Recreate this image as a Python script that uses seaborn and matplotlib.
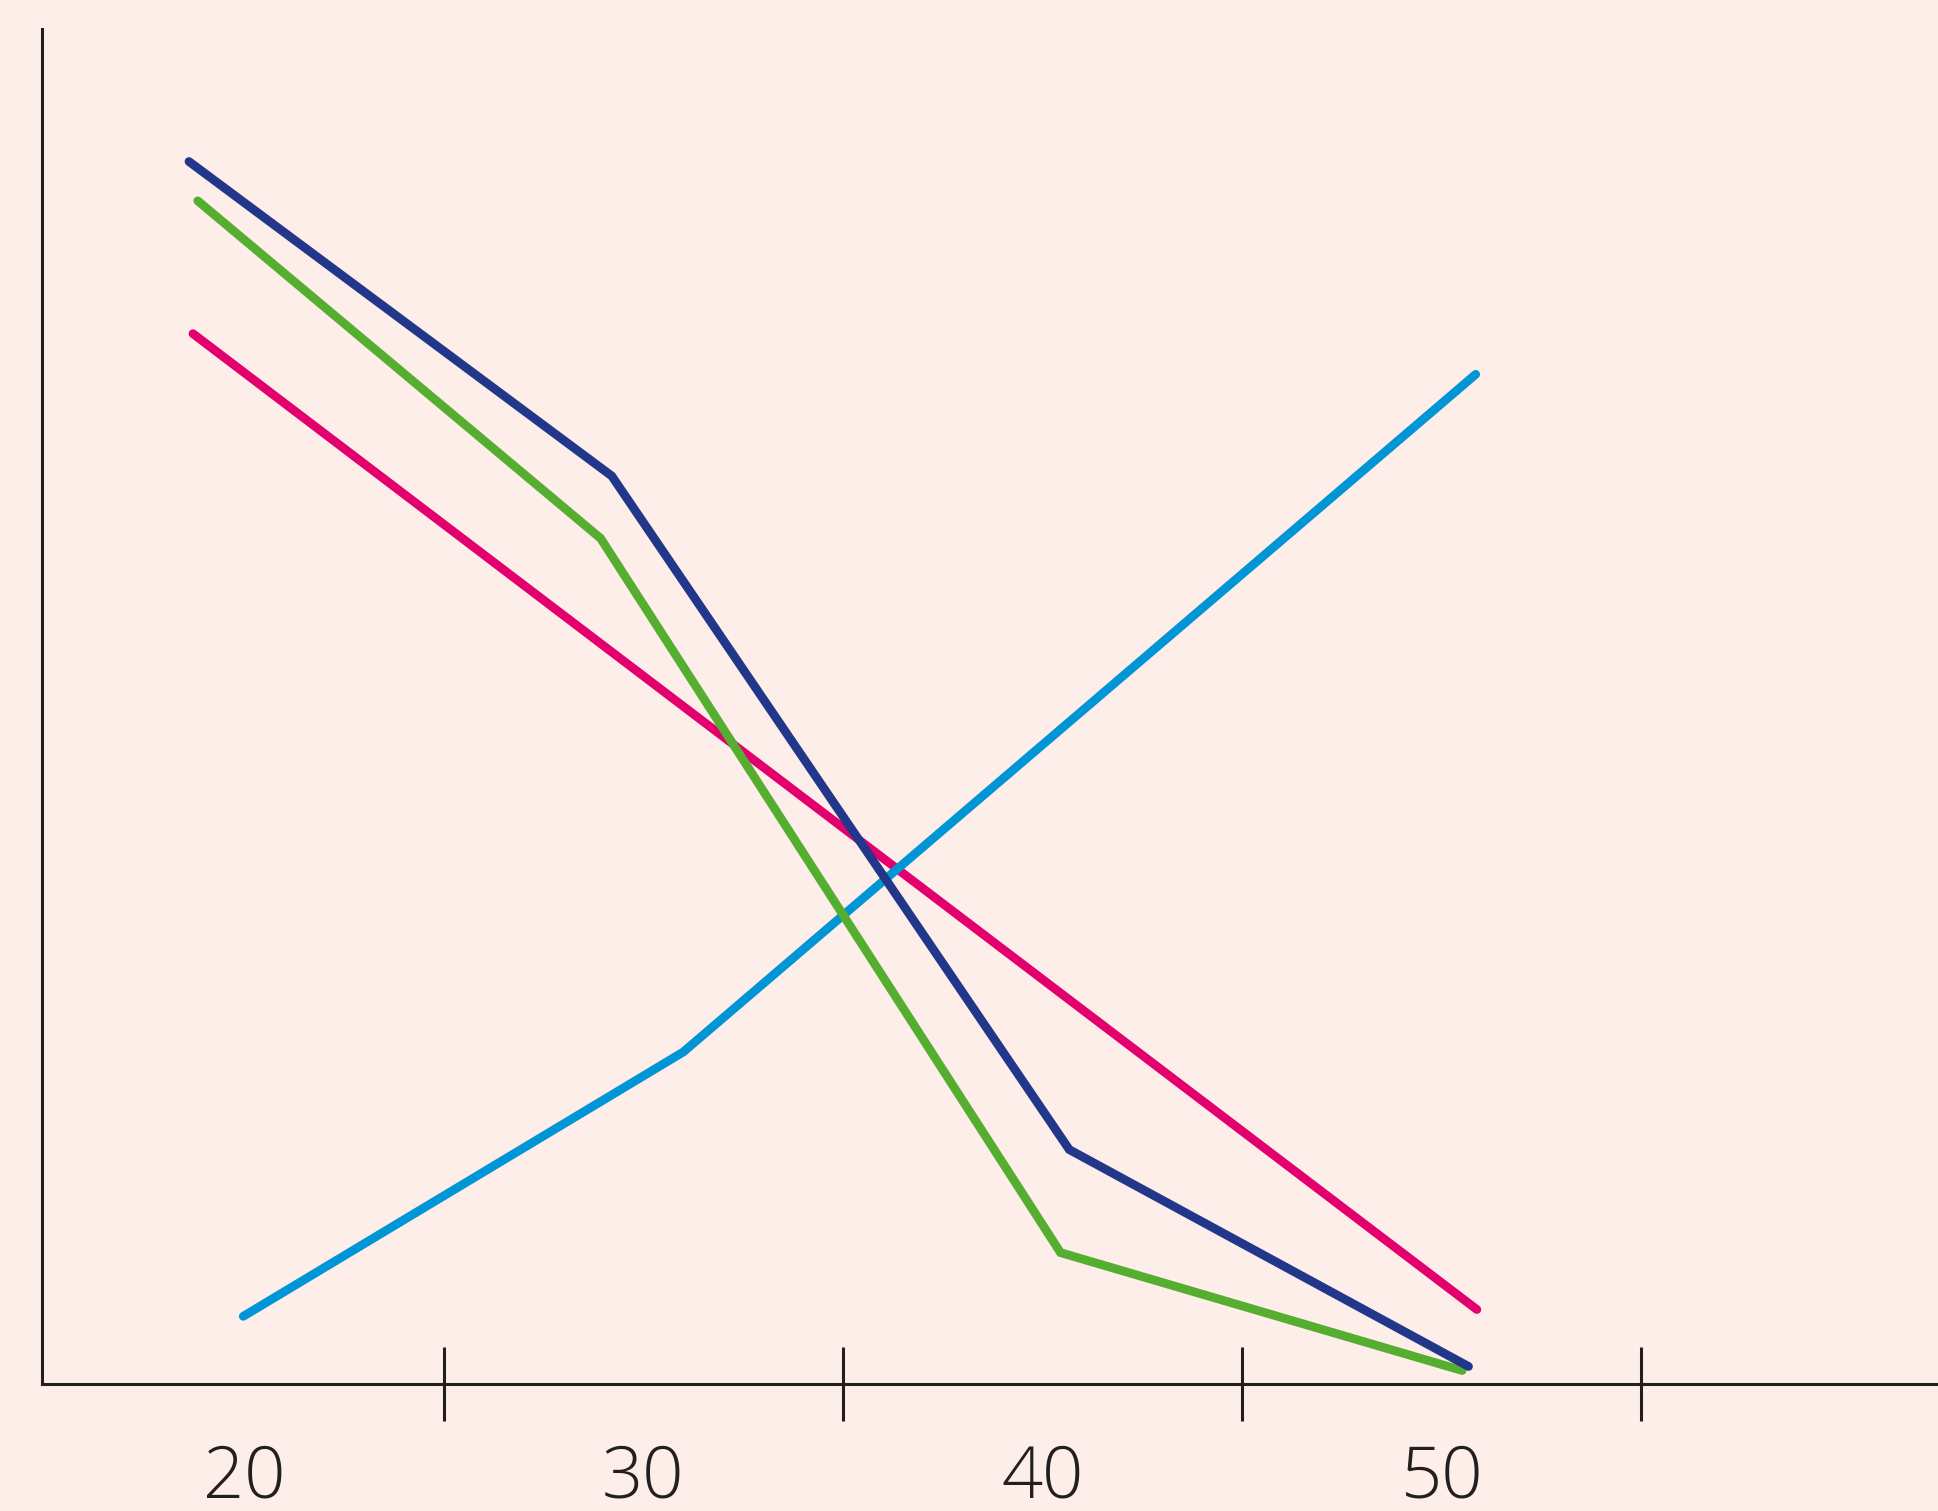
import pandas as pd
import matplotlib.pyplot as plt
import seaborn as sns

# values (x = age, y = share on an unlabelled 0-100 axis)
navy_x = [18.62, 29.21, 40.67, 50.67]
navy_y = [90.2, 67.0, 17.3, 1.3]
green_x = [18.84, 28.93, 40.45, 50.51]
green_y = [87.3, 62.4, 9.7, 1.0]
magenta_x = [18.72, 50.88]
magenta_y = [77.5, 5.5]
cyan_x = [19.98, 31.0, 50.85]
cyan_y = [5.0, 24.5, 74.5]

tick_labels = [20, 30, 40, 50]
bin_edges = [25, 35, 45, 55]

colors = {
    "magenta": "#e2006f",
    "cyan": "#0096d6",
    "green": "#56ae31",
    "navy": "#22378a",
}

def main():
    frames = []
    for name, xs, ys in [("magenta", magenta_x, magenta_y),
                         ("cyan", cyan_x, cyan_y),
                         ("green", green_x, green_y),
                         ("navy", navy_x, navy_y)]:
        frames.append(pd.DataFrame({"age": xs, "value": ys, "series": name}))
    df = pd.concat(frames, ignore_index=True)

    bg = "#fdeeea"
    ink = "#231f20"

    sns.set_style("white")
    plt.rcParams["font.family"] = ["Open Sans", "Lato", "DejaVu Sans"]

    fig = plt.figure(figsize=(19.38, 15.11), dpi=100, facecolor=bg)
    ax = fig.add_axes([0.0217, 0.084, 0.9783, 0.897])
    ax.set_facecolor(bg)

    sns.lineplot(data=df, x="age", y="value", hue="series", palette=colors,
                 hue_order=["magenta", "cyan", "green", "navy"],
                 linewidth=6.3, sort=False, legend=False, ax=ax,
                 solid_capstyle="round", solid_joinstyle="miter")

    ax.set_xlim(14.94, 62.43)
    ax.set_ylim(0, 100)

    for side in ["top", "right"]:
        ax.spines[side].set_visible(False)
    for side in ["left", "bottom"]:
        ax.spines[side].set_color(ink)
        ax.spines[side].set_linewidth(2.2)

    ax.set_yticks([])
    ax.set_xticks(tick_labels)
    ax.set_xticklabels([str(t) for t in tick_labels], fontsize=52,
                       fontweight=300, color=ink)
    ax.tick_params(axis="x", which="major", length=0, pad=42)
    ax.set_xticks(bin_edges, minor=True)
    ax.tick_params(axis="x", which="minor", bottom=True, direction="inout",
                   length=53, width=2.2, color=ink)
    ax.set_xlabel("")
    ax.set_ylabel("")

    plt.savefig("out.png", dpi=100, facecolor=bg)

if __name__ == "__main__":
    main()
